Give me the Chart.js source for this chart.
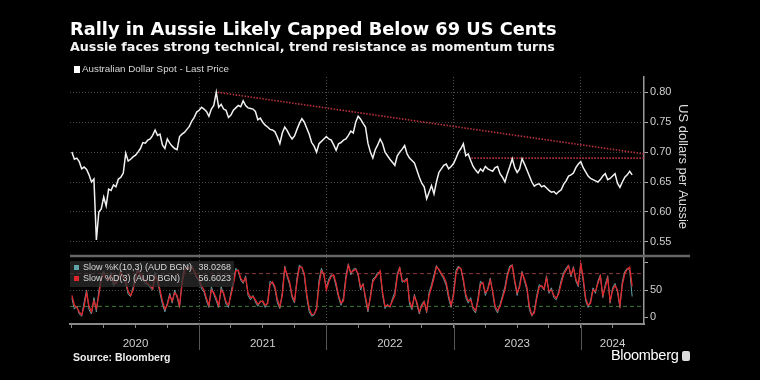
<!DOCTYPE html>
<html>
<head>
<meta charset="utf-8">
<script src="https://cdn.jsdelivr.net/npm/chart.js@4.4.1/dist/chart.umd.min.js"></script>
<style>
  html, body { margin: 0; padding: 0; background: #000; }
  #wrap { position: relative; width: 760px; height: 380px; background: #000; overflow: hidden;
          font-family: "Liberation Sans", Arial, sans-serif; color: #fff; }
  #chart { position: absolute; left: 0; top: 0; }
  .title { position: absolute; left: 70px; top: 18px; font-family: "DejaVu Sans", sans-serif; font-size: 17.8px;
           font-weight: bold; white-space: nowrap; }
  .subtitle { position: absolute; left: 70px; top: 38.5px; font-family: "DejaVu Sans", sans-serif; font-size: 12.7px;
              font-weight: bold; white-space: nowrap; color: #f2f2f2; }
  .legend { position: absolute; left: 74px; top: 63px; font-size: 9.8px; color: #d8d8d8; white-space: nowrap; }
  .legend i { display: inline-block; width: 6px; height: 7px; background: #fff; margin-right: 2px; vertical-align: -1px; }
  .stoch { position: absolute; left: 70px; top: 261px; width: 164px; height: 26px; background: rgba(45, 45, 45, 0.72);
           font-size: 9px; color: #d8d8d8; line-height: 11px; padding-top: 1px; box-sizing: border-box; }
  .stoch div { position: relative; height: 11px; padding-left: 13px; white-space: nowrap; }
  .stoch i { position: absolute; left: 4px; top: 3px; width: 5px; height: 5px; }
  .stoch b { position: absolute; right: 3px; top: 0; font-weight: normal; }
  .source { position: absolute; left: 73px; top: 351px; font-size: 10.5px; font-weight: bold; color: #eee; }
  .brand { position: absolute; left: 611px; top: 347px; font-size: 14.5px; color: #fff; letter-spacing: -0.3px; }
  .brand span { display: inline-block; width: 8px; height: 10px; background: #ddd; border-radius: 2px; margin-left: 4px; vertical-align: -1px; }
</style>
</head>
<body>
<div id="wrap">
  <canvas id="chart" width="760" height="380"></canvas>
  <div class="title">Rally in Aussie Likely Capped Below 69 US Cents</div>
  <div class="subtitle">Aussie faces strong technical, trend resistance as momentum turns</div>
  <div class="legend"><i></i>Australian Dollar Spot - Last Price</div>
  <div class="stoch">
    <div><i style="background:#5fa3a8"></i>Slow %K(10,3) (AUD BGN)<b id="kVal"></b></div>
    <div><i style="background:#e0262b"></i>Slow %D(3) (AUD BGN)<b id="dVal"></b></div>
  </div>
  <div class="source">Source: Bloomberg</div>
  <div class="brand">Bloomberg<span></span></div>
</div>
<script>
// weekly AUD/USD spot, one array per calendar year
const years = [2020, 2021, 2022, 2023, 2024];
const aud2020 = [0.700, 0.688, 0.690, 0.684, 0.672, 0.675, 0.671, 0.662, 0.650, 0.655, 0.553, 0.600, 0.605,
  0.625, 0.610, 0.638, 0.636, 0.645, 0.642, 0.655, 0.658, 0.665, 0.698, 0.685, 0.688, 0.692, 0.695, 0.700,
  0.706, 0.716, 0.715, 0.720, 0.722, 0.728, 0.737, 0.728, 0.730, 0.712, 0.706, 0.722, 0.715, 0.710, 0.706,
  0.704, 0.726, 0.730, 0.733, 0.738, 0.743, 0.752, 0.758, 0.767];
const aud2021 = [0.770, 0.775, 0.772, 0.768, 0.760, 0.772, 0.778, 0.800, 0.775, 0.780, 0.772, 0.770, 0.758,
  0.762, 0.770, 0.774, 0.778, 0.776, 0.786, 0.778, 0.774, 0.773, 0.772, 0.768, 0.754, 0.757, 0.750, 0.745,
  0.742, 0.738, 0.737, 0.734, 0.725, 0.714, 0.732, 0.742, 0.736, 0.728, 0.722, 0.727, 0.738, 0.748, 0.756,
  0.750, 0.740, 0.730, 0.716, 0.710, 0.700, 0.714, 0.718, 0.722];
const aud2022 = [0.726, 0.722, 0.720, 0.712, 0.703, 0.714, 0.716, 0.720, 0.722, 0.728, 0.735, 0.732, 0.750,
  0.760, 0.755, 0.748, 0.742, 0.715, 0.700, 0.690, 0.704, 0.712, 0.722, 0.714, 0.700, 0.694, 0.688, 0.683,
  0.678, 0.694, 0.700, 0.705, 0.711, 0.697, 0.690, 0.686, 0.682, 0.670, 0.658, 0.648, 0.642, 0.622, 0.633,
  0.644, 0.630, 0.650, 0.666, 0.672, 0.678, 0.680, 0.672, 0.676];
const aud2023 = [0.681, 0.690, 0.700, 0.706, 0.714, 0.694, 0.697, 0.686, 0.676, 0.670, 0.665, 0.672, 0.668,
  0.676, 0.672, 0.670, 0.668, 0.674, 0.676, 0.664, 0.658, 0.650, 0.664, 0.676, 0.689, 0.674, 0.666, 0.672,
  0.689, 0.680, 0.670, 0.660, 0.650, 0.643, 0.646, 0.647, 0.642, 0.644, 0.640, 0.636, 0.633, 0.634, 0.630,
  0.634, 0.637, 0.646, 0.652, 0.660, 0.662, 0.665, 0.674, 0.680];
const aud2024 = [0.684, 0.674, 0.667, 0.660, 0.656, 0.654, 0.652, 0.650, 0.654, 0.660, 0.664, 0.654, 0.656,
  0.660, 0.664, 0.648, 0.641, 0.650, 0.658, 0.662, 0.668, 0.662];

// slow stochastic %D(3) and %K(10,3)
const slowD2020 = [40, 22, 18, 10, 4, 20, 45, 20, 10, 30, 16, 40, 70, 80, 72, 68, 78, 64, 62, 70, 82, 74, 66,
  48, 40, 50, 70, 86, 78, 72, 66, 62, 58, 52, 76, 70, 50, 30, 15, 22, 40, 30, 45, 40, 22, 60, 85, 92, 90, 92, 85, 75];
const slowD2021 = [70, 57, 50, 35, 22, 50, 45, 35, 22, 50, 45, 28, 22, 40, 60, 85, 86, 72, 65, 72, 45, 36, 38,
  32, 24, 28, 30, 22, 25, 60, 65, 56, 32, 20, 40, 90, 78, 65, 40, 30, 65, 92, 92, 80, 42, 16, 5, 6, 14, 60, 85, 80];
const slowD2022 = [50, 65, 75, 78, 62, 40, 26, 30, 70, 95, 82, 85, 88, 80, 55, 60, 38, 15, 35, 65, 72, 78, 85,
  45, 20, 22, 20, 30, 40, 75, 90, 68, 65, 70, 30, 18, 38, 28, 10, 20, 28, 12, 40, 55, 72, 92, 88, 80, 74, 64, 40, 22];
const slowD2023 = [40, 80, 91, 90, 70, 42, 30, 32, 18, 12, 30, 60, 64, 45, 50, 68, 48, 20, 12, 20, 35, 50, 75,
  90, 95, 68, 45, 55, 81, 70, 55, 20, 4, 8, 34, 55, 58, 52, 72, 48, 50, 40, 35, 43, 62, 78, 86, 94, 78, 90, 70, 60];
const slowD2024 = [98, 72, 35, 22, 26, 50, 48, 62, 75, 40, 55, 72, 30, 50, 58, 50, 22, 60, 80, 88, 92, 56.6023];

const slowK2020 = [35, 15, 20, 6, 2, 28, 50, 14, 6, 36, 10, 48, 76, 84, 68, 72, 82, 58, 66, 74, 86, 70, 62,
  42, 38, 56, 76, 90, 74, 68, 62, 60, 54, 50, 82, 66, 44, 24, 10, 26, 44, 26, 50, 36, 18, 68, 90, 96, 88, 95, 82, 72];
const slowK2021 = [66, 52, 46, 30, 18, 56, 42, 30, 18, 56, 42, 24, 18, 46, 66, 90, 84, 68, 62, 76, 40, 32, 40,
  28, 20, 30, 28, 18, 28, 66, 62, 52, 26, 16, 46, 94, 74, 60, 36, 26, 72, 96, 90, 76, 36, 10, 2, 4, 18, 68, 90, 76];
const slowK2022 = [54, 70, 78, 74, 56, 36, 22, 36, 76, 98, 78, 88, 90, 76, 50, 62, 32, 10, 40, 70, 74, 82, 82,
  40, 16, 24, 18, 34, 46, 80, 92, 64, 68, 72, 24, 14, 42, 24, 6, 24, 30, 8, 46, 60, 78, 95, 86, 78, 70, 58, 34, 18];
const slowK2023 = [46, 86, 94, 88, 66, 36, 26, 36, 14, 8, 36, 66, 62, 40, 54, 72, 44, 16, 8, 24, 40, 56, 80,
  94, 96, 64, 40, 60, 84, 66, 50, 14, 2, 12, 40, 60, 56, 50, 76, 44, 54, 36, 32, 48, 68, 82, 90, 96, 74, 93, 66, 56];
const slowK2024 = [99, 66, 30, 18, 30, 54, 44, 66, 78, 36, 60, 76, 26, 54, 62, 46, 18, 66, 84, 90, 86, 38.0268];

const priceTicks = [0.55, 0.60, 0.65, 0.70, 0.75, 0.80];
const stochTicks = [0, 50, 100];
const stochLevels = [80, 20];
// drawn resistance lines: [year, price] end points
const trendLine = [[2021.147, 0.800], [2024.497, 0.697]];
const flatLine = [[2023.14, 0.690], [2024.497, 0.690]];

const xMin = 2019.985, xMax = 2024.497;

function weekly(arrays) {
  const pts = [];
  arrays.forEach((arr, k) => arr.forEach((v, i) => pts.push({ x: years[k] + i / 52, y: v })));
  return pts;
}
const line = seg => seg.map(p => ({ x: p[0], y: p[1] }));

document.getElementById('kVal').textContent = slowK2024[slowK2024.length - 1].toFixed(4);
document.getElementById('dVal').textContent = slowD2024[slowD2024.length - 1].toFixed(4);

Chart.defaults.font.family = "'Liberation Sans', Arial, sans-serif";

const frame = {
  id: 'frame',
  afterDatasetsDraw(chart) {
    const { ctx, chartArea, scales } = chart;
    ctx.save();
    // separator between price and momentum panels
    ctx.strokeStyle = '#666';
    ctx.lineWidth = 2.5;
    ctx.beginPath();
    ctx.moveTo(chartArea.left, scales.y.bottom);
    ctx.lineTo(scales.y.right, scales.y.bottom);
    ctx.stroke();
    // year separators under the axis
    ctx.strokeStyle = '#555';
    ctx.lineWidth = 1;
    years.slice(1).forEach(yr => {
      const px = Math.round(scales.x.getPixelForValue(yr)) + 0.5;
      ctx.beginPath();
      ctx.moveTo(px, chartArea.bottom);
      ctx.lineTo(px, chartArea.bottom + 26);
      ctx.stroke();
    });
    ctx.restore();
  }
};

new Chart(document.getElementById('chart'), {
  type: 'line',
  data: {
    datasets: [
      { data: weekly([aud2020, aud2021, aud2022, aud2023, aud2024]), borderColor: '#f2f2f2', borderWidth: 1.5,
        pointRadius: 0, yAxisID: 'y', order: 1 },
      { data: line(trendLine), borderColor: '#b8323c', borderWidth: 1.6, borderDash: [1.5, 1.5],
        pointRadius: 0, yAxisID: 'y', order: 2 },
      { data: line(flatLine), borderColor: '#b8323c', borderWidth: 1.6, borderDash: [1.5, 1.5],
        pointRadius: 0, yAxisID: 'y', order: 2 },
      { data: weekly([slowD2020, slowD2021, slowD2022, slowD2023, slowD2024]), borderColor: '#e0262b',
        borderWidth: 1.3, pointRadius: 0, yAxisID: 'y2', order: 3 },
      { data: weekly([slowK2020, slowK2021, slowK2022, slowK2023, slowK2024]), borderColor: '#5fa3a8',
        borderWidth: 1, pointRadius: 0, yAxisID: 'y2', order: 4 },
      { data: [{ x: xMin, y: stochLevels[0] }, { x: xMax, y: stochLevels[0] }], borderColor: '#8a3b36',
        borderWidth: 1, borderDash: [4, 3], pointRadius: 0, yAxisID: 'y2', order: 5 },
      { data: [{ x: xMin, y: stochLevels[1] }, { x: xMax, y: stochLevels[1] }], borderColor: '#3f7a3a',
        borderWidth: 1, borderDash: [4, 3], pointRadius: 0, yAxisID: 'y2', order: 5 }
    ]
  },
  options: {
    responsive: false,
    animation: false,
    devicePixelRatio: 1,
    layout: { padding: { left: 70, right: 70, top: 77, bottom: 30 } },
    plugins: { legend: { display: false }, tooltip: { enabled: false } },
    scales: {
      x: {
        type: 'linear', min: xMin, max: xMax,
        afterBuildTicks: s => {
          const t = [];
          for (let v = 2020; v <= 2024.25; v += 0.25) t.push({ value: v });
          s.ticks = t;
        },
        afterFit: s => { s.height = 26; },
        grid: {
          color: c => (c.tick && Number.isInteger(c.tick.value) && c.tick.value > 2020) ? '#505050' : 'transparent',
          tickColor: '#888', tickLength: 4
        },
        border: { color: '#888', width: 2, dash: [1, 2] },
        ticks: {
          color: '#cfcfcf', font: { size: 11.5 }, padding: 9, maxRotation: 0, autoSkip: false,
          callback: v => {
            const yr = Math.floor(v);
            const mid = yr === 2024 ? 2024.25 : yr + 0.5;
            return Math.abs(v - mid) < 1e-6 ? String(yr) : '';
          }
        }
      },
      y: {
        type: 'linear', position: 'right', stack: 'panels', stackWeight: 179,
        min: 0.5263, max: 0.8256,
        afterBuildTicks: s => { s.ticks = priceTicks.map(v => ({ value: v })); },
        afterFit: s => { s.width = 46; },
        grid: { color: '#474747', tickColor: '#aaa', tickLength: 4 },
        border: { color: '#999', width: 1.5, dash: [1, 2] },
        ticks: { color: '#cfcfcf', font: { size: 11 }, padding: 2, callback: v => v.toFixed(2) },
        title: { display: true, text: 'US dollars per Aussie', color: '#dcdcdc', font: { size: 13 }, padding: 0 }
      },
      y2: {
        type: 'linear', position: 'right', stack: 'panels', stackWeight: 68,
        min: -12.3, max: 112.3,
        afterBuildTicks: s => { s.ticks = stochTicks.map(v => ({ value: v })); },
        afterFit: s => { s.width = 46; },
        grid: { color: c => (c.tick && c.tick.value === 50) ? '#474747' : 'transparent', tickColor: '#aaa', tickLength: 4 },
        border: { color: '#999', width: 1.5, dash: [1, 2] },
        ticks: { color: '#cfcfcf', font: { size: 11 }, padding: 2, callback: v => v === 100 ? '' : String(v) }
      }
    }
  },
  plugins: [frame]
});
</script>
</body>
</html>
